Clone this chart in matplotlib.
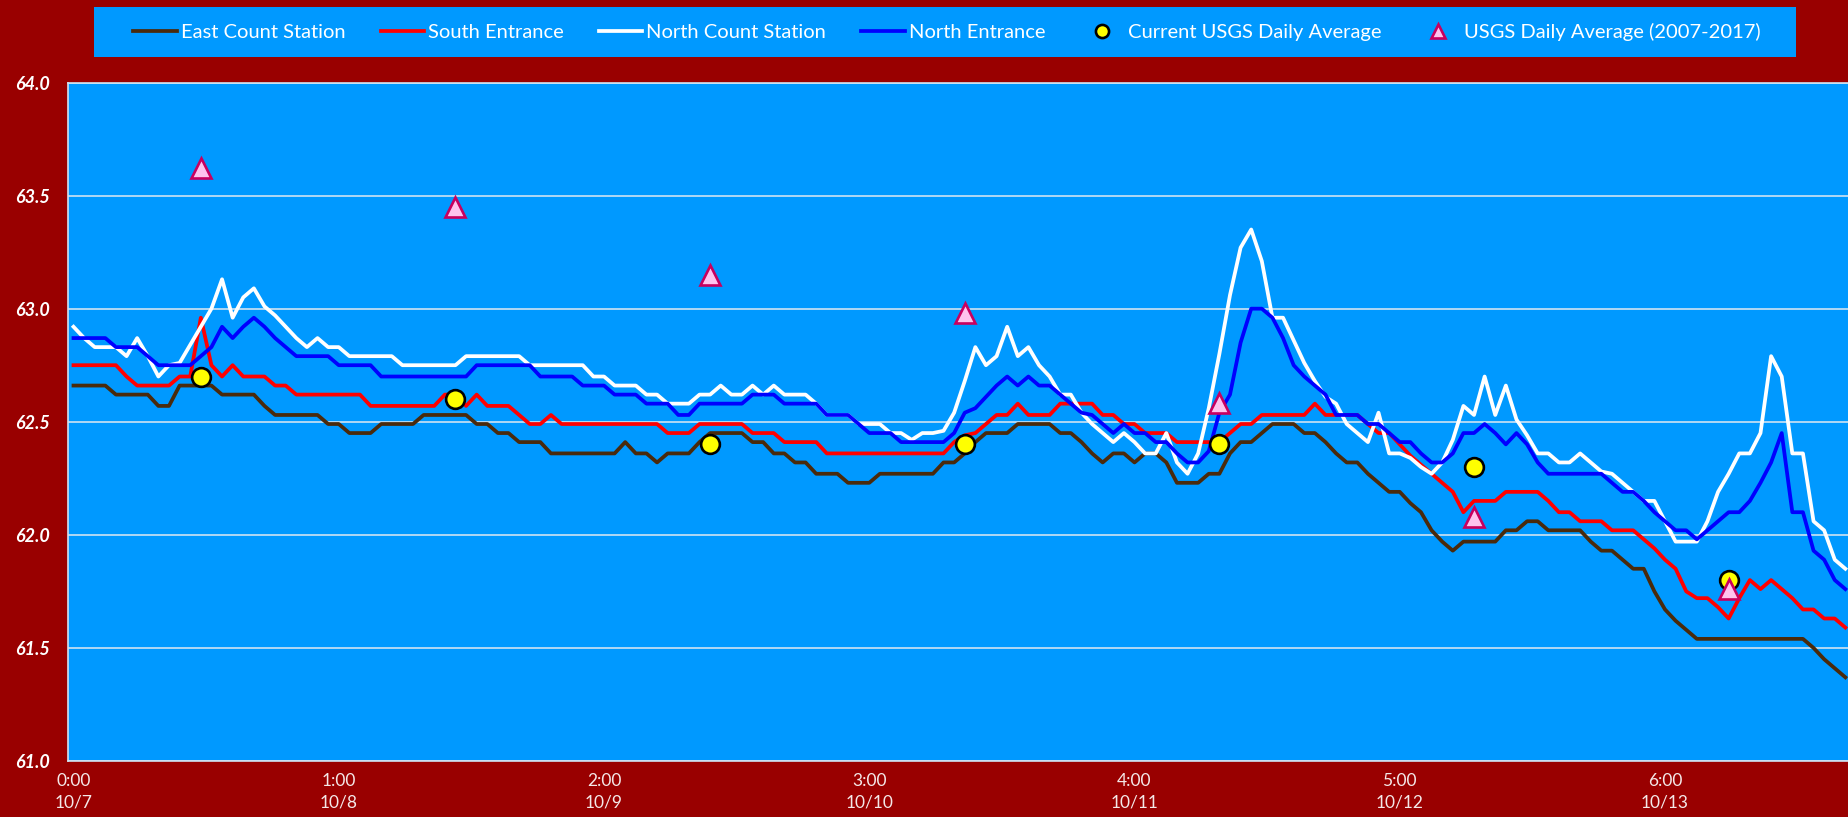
import matplotlib.pyplot as plt
from matplotlib.patches import Rectangle
import numpy as np

# hourly readings, 10/7 0:00 onwards
east = [62.66, 62.66, 62.66, 62.66, 62.62, 62.62, 62.62, 62.62, 62.57, 62.57,
        62.66, 62.66, 62.66, 62.66, 62.62, 62.62, 62.62, 62.62, 62.57, 62.53,
        62.53, 62.53, 62.53, 62.53, 62.49, 62.49, 62.45, 62.45, 62.45, 62.49,
        62.49, 62.49, 62.49, 62.53, 62.53, 62.53, 62.53, 62.53, 62.49, 62.49,
        62.45, 62.45, 62.41, 62.41, 62.41, 62.36, 62.36, 62.36, 62.36, 62.36,
        62.36, 62.36, 62.41, 62.36, 62.36, 62.32, 62.36, 62.36, 62.36, 62.41,
        62.45, 62.45, 62.45, 62.45, 62.41, 62.41, 62.36, 62.36, 62.32, 62.32,
        62.27, 62.27, 62.27, 62.23, 62.23, 62.23, 62.27, 62.27, 62.27, 62.27,
        62.27, 62.27, 62.32, 62.32, 62.36, 62.41, 62.45, 62.45, 62.45, 62.49,
        62.49, 62.49, 62.49, 62.45, 62.45, 62.41, 62.36, 62.32, 62.36, 62.36,
        62.32, 62.36, 62.36, 62.32, 62.23, 62.23, 62.23, 62.27, 62.27, 62.36,
        62.41, 62.41, 62.45, 62.49, 62.49, 62.49, 62.45, 62.45, 62.41, 62.36,
        62.32, 62.32, 62.27, 62.23, 62.19, 62.19, 62.14, 62.10, 62.02, 61.97,
        61.93, 61.97, 61.97, 61.97, 61.97, 62.02, 62.02, 62.06, 62.06, 62.02,
        62.02, 62.02, 62.02, 61.97, 61.93, 61.93, 61.89, 61.85, 61.85, 61.75,
        61.67, 61.62, 61.58, 61.54, 61.54, 61.54, 61.54, 61.54, 61.54, 61.54,
        61.54, 61.54, 61.54, 61.54, 61.50, 61.45, 61.41, 61.37]

south = [62.75, 62.75, 62.75, 62.75, 62.75, 62.70, 62.66, 62.66, 62.66, 62.66,
         62.70, 62.70, 62.96, 62.75, 62.70, 62.75, 62.70, 62.70, 62.70, 62.66,
         62.66, 62.62, 62.62, 62.62, 62.62, 62.62, 62.62, 62.62, 62.57, 62.57,
         62.57, 62.57, 62.57, 62.57, 62.57, 62.62, 62.62, 62.57, 62.62, 62.57,
         62.57, 62.57, 62.53, 62.49, 62.49, 62.53, 62.49, 62.49, 62.49, 62.49,
         62.49, 62.49, 62.49, 62.49, 62.49, 62.49, 62.45, 62.45, 62.45, 62.49,
         62.49, 62.49, 62.49, 62.49, 62.45, 62.45, 62.45, 62.41, 62.41, 62.41,
         62.41, 62.36, 62.36, 62.36, 62.36, 62.36, 62.36, 62.36, 62.36, 62.36,
         62.36, 62.36, 62.36, 62.41, 62.44, 62.45, 62.49, 62.53, 62.53, 62.58,
         62.53, 62.53, 62.53, 62.58, 62.58, 62.58, 62.58, 62.53, 62.53, 62.49,
         62.49, 62.45, 62.45, 62.45, 62.41, 62.41, 62.41, 62.41, 62.41, 62.45,
         62.49, 62.49, 62.53, 62.53, 62.53, 62.53, 62.53, 62.58, 62.53, 62.53,
         62.53, 62.53, 62.49, 62.45, 62.45, 62.40, 62.35, 62.31, 62.27, 62.23,
         62.19, 62.10, 62.15, 62.15, 62.15, 62.19, 62.19, 62.19, 62.19, 62.15,
         62.10, 62.10, 62.06, 62.06, 62.06, 62.02, 62.02, 62.02, 61.98, 61.94,
         61.89, 61.85, 61.75, 61.72, 61.72, 61.68, 61.63, 61.72, 61.80, 61.76,
         61.80, 61.76, 61.72, 61.67, 61.67, 61.63, 61.63, 61.59]

north_count = [62.92, 62.87, 62.83, 62.83, 62.83, 62.79, 62.87, 62.79, 62.70, 62.75,
               62.76, 62.84, 62.92, 63.00, 63.13, 62.96, 63.05, 63.09, 63.01, 62.97,
               62.92, 62.87, 62.83, 62.87, 62.83, 62.83, 62.79, 62.79, 62.79, 62.79,
               62.79, 62.75, 62.75, 62.75, 62.75, 62.75, 62.75, 62.79, 62.79, 62.79,
               62.79, 62.79, 62.79, 62.75, 62.75, 62.75, 62.75, 62.75, 62.75, 62.70,
               62.70, 62.66, 62.66, 62.66, 62.62, 62.62, 62.58, 62.58, 62.58, 62.62,
               62.62, 62.66, 62.62, 62.62, 62.66, 62.62, 62.66, 62.62, 62.62, 62.62,
               62.58, 62.53, 62.53, 62.53, 62.49, 62.49, 62.49, 62.45, 62.45, 62.42,
               62.45, 62.45, 62.46, 62.54, 62.68, 62.83, 62.75, 62.79, 62.92, 62.79,
               62.83, 62.75, 62.70, 62.62, 62.62, 62.54, 62.49, 62.45, 62.41, 62.45,
               62.41, 62.36, 62.36, 62.45, 62.32, 62.27, 62.36, 62.56, 62.80, 63.06,
               63.27, 63.35, 63.21, 62.96, 62.96, 62.86, 62.76, 62.68, 62.61, 62.58,
               62.49, 62.45, 62.41, 62.54, 62.36, 62.36, 62.34, 62.30, 62.27, 62.32,
               62.42, 62.57, 62.53, 62.70, 62.53, 62.66, 62.51, 62.44, 62.36, 62.36,
               62.32, 62.32, 62.36, 62.32, 62.28, 62.27, 62.23, 62.19, 62.15, 62.15,
               62.06, 61.97, 61.97, 61.97, 62.06, 62.19, 62.27, 62.36, 62.36, 62.45,
               62.79, 62.70, 62.36, 62.36, 62.06, 62.02, 61.89, 61.85]

north_entrance = [62.87, 62.87, 62.87, 62.87, 62.83, 62.83, 62.83, 62.79, 62.75, 62.75,
                  62.75, 62.75, 62.79, 62.83, 62.92, 62.87, 62.92, 62.96, 62.92, 62.87,
                  62.83, 62.79, 62.79, 62.79, 62.79, 62.75, 62.75, 62.75, 62.75, 62.70,
                  62.70, 62.70, 62.70, 62.70, 62.70, 62.70, 62.70, 62.70, 62.75, 62.75,
                  62.75, 62.75, 62.75, 62.75, 62.70, 62.70, 62.70, 62.70, 62.66, 62.66,
                  62.66, 62.62, 62.62, 62.62, 62.58, 62.58, 62.58, 62.53, 62.53, 62.58,
                  62.58, 62.58, 62.58, 62.58, 62.62, 62.62, 62.62, 62.58, 62.58, 62.58,
                  62.58, 62.53, 62.53, 62.53, 62.49, 62.45, 62.45, 62.45, 62.41, 62.41,
                  62.41, 62.41, 62.41, 62.45, 62.54, 62.56, 62.61, 62.66, 62.70, 62.66,
                  62.70, 62.66, 62.66, 62.62, 62.58, 62.54, 62.53, 62.49, 62.45, 62.49,
                  62.45, 62.45, 62.41, 62.41, 62.36, 62.32, 62.32, 62.37, 62.54, 62.62,
                  62.85, 63.00, 63.00, 62.96, 62.87, 62.75, 62.70, 62.66, 62.62, 62.53,
                  62.53, 62.53, 62.49, 62.49, 62.45, 62.41, 62.41, 62.36, 62.32, 62.32,
                  62.36, 62.45, 62.45, 62.49, 62.45, 62.40, 62.45, 62.40, 62.32, 62.27,
                  62.27, 62.27, 62.27, 62.27, 62.27, 62.23, 62.19, 62.19, 62.15, 62.10,
                  62.06, 62.02, 62.02, 61.98, 62.02, 62.06, 62.10, 62.10, 62.15, 62.23,
                  62.32, 62.45, 62.10, 62.10, 61.93, 61.89, 61.80, 61.76]

# daily averages, plotted at noon of each day
avg_hours = [12, 36, 60, 84, 108, 132, 156]
usgs_current = [62.70, 62.60, 62.40, 62.40, 62.40, 62.30, 61.80]
usgs_hist = [63.62, 63.45, 63.15, 62.98, 62.585, 62.08, 61.76]

tick_hours = ['0:00', '1:00', '2:00', '3:00', '4:00', '5:00', '6:00']
tick_dates = ['10/7', '10/8', '10/9', '10/10', '10/11', '10/12', '10/13']

W, H = 1849, 817
fig = plt.figure(figsize=(W / 100, H / 100), dpi=100, facecolor='#990000')
ax = fig.add_axes([68.2 / W, 1 - 761 / H, (W - 68.2) / W, (761 - 82.5) / H])
ax.set_facecolor('#0099FF')

x = np.arange(len(east))
ax.plot(x, east, color='#4A2A0C', lw=2.7, label='East Count Station')
ax.plot(x, south, color='#FF0000', lw=2.7, label='South Entrance')
ax.plot(x, north_count, color='white', lw=2.7, label='North Count Station')
ax.plot(x, north_entrance, color='#0000FF', lw=2.7, label='North Entrance')
ax.plot(avg_hours, usgs_current, linestyle='none', marker='o', markersize=13.5,
        markerfacecolor='#FFFF00', markeredgecolor='black', markeredgewidth=1.9,
        label='Current USGS Daily Average', zorder=4)
ax.plot(avg_hours, usgs_hist, linestyle='none', marker='^', markersize=15,
        markerfacecolor='#FFC3EE', markeredgecolor='#C8005F', markeredgewidth=1.9,
        label='USGS Daily Average (2007-2017)', zorder=5)

ax.set_xlim(-0.5, -0.5 + (W - 68.2) / 10.61)
ax.set_ylim(61, 64)
ax.set_yticks(np.arange(61, 64.01, 0.5))
ax.set_yticklabels(['%.1f' % v for v in np.arange(61, 64.01, 0.5)],
                   family='Lato', weight='bold', style='italic', size=13, color='white')
ax.set_xticks(np.arange(0, 151, 25))
xl = ax.set_xticklabels([h + '\n' + d for h, d in zip(tick_hours, tick_dates)],
                        family='Lato', size=12.5, color='#F4E8E8')
for t in xl:
    t.set_linespacing(1.4)
ax.tick_params(axis='both', length=0)
ax.tick_params(axis='y', pad=13)
ax.tick_params(axis='x', pad=9)

ax.yaxis.grid(True, color='#CFE3F2', lw=1.2)
ax.set_axisbelow(True)
for s in ['left', 'bottom', 'top']:
    ax.spines[s].set_color('#CFE3F2')
    ax.spines[s].set_linewidth(1.2)
ax.spines['right'].set_visible(False)

# legend box
fig.patches.append(Rectangle((94 / W, 1 - 57 / H), (1796 - 94) / W, 50 / H,
                             transform=fig.transFigure, facecolor='#0099FF',
                             edgecolor='none', zorder=0))
h, l = ax.get_legend_handles_labels()
fig.legend(h, l, loc='center', bbox_to_anchor=(947 / W, 1 - 32 / H), ncol=6,
           frameon=False, handlelength=2.15, handletextpad=0.2, columnspacing=1.75,
           markerscale=0.7, labelcolor='white', prop={'family': 'Lato', 'size': 14.5})

fig.savefig('out.png', dpi=100, facecolor=fig.get_facecolor())
